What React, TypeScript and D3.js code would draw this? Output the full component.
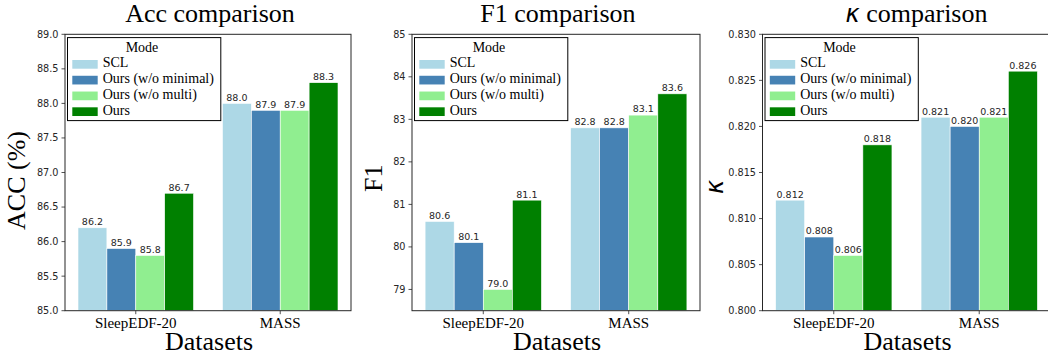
import React from "react";
import * as d3 from "d3";

const categories = ["SleepEDF-20", "MASS"];
const modes = ["SCL", "Ours (w/o minimal)", "Ours (w/o multi)", "Ours"];
const modeColors = ["#add8e6", "#4682b4", "#90ee90", "#008000"];

// values per mode: [SleepEDF-20, MASS]
const accSCL = [86.2, 88.0];
const accNoMinimal = [85.9, 87.9];
const accNoMulti = [85.8, 87.9];
const accOurs = [86.7, 88.3];

const f1SCL = [80.6, 82.8];
const f1NoMinimal = [80.1, 82.8];
const f1NoMulti = [79.0, 83.1];
const f1Ours = [81.1, 83.6];

const kappaSCL = [0.812, 0.821];
const kappaNoMinimal = [0.808, 0.82];
const kappaNoMulti = [0.806, 0.821];
const kappaOurs = [0.818, 0.826];

const accTicks = [85.0, 85.5, 86.0, 86.5, 87.0, 87.5, 88.0, 88.5, 89.0];
const f1Ticks = [79, 80, 81, 82, 83, 84, 85];
const kappaTicks = [0.8, 0.805, 0.81, 0.815, 0.82, 0.825, 0.83];

const panels = [
  {
    title: "Acc comparison",
    ylabel: "ACC (%)",
    series: [accSCL, accNoMinimal, accNoMulti, accOurs],
    domain: [85, 89],
    ticks: accTicks,
    tickFmt: ".1f",
    valFmt: ".1f",
    left: 65,
    right: 351,
    ylabelX: 25,
    ylabelY: 180.5,
    titleDx: 2,
    kappa: false,
  },
  {
    title: "F1 comparison",
    ylabel: "F1",
    series: [f1SCL, f1NoMinimal, f1NoMulti, f1Ours],
    domain: [78.5, 85],
    ticks: f1Ticks,
    tickFmt: "d",
    valFmt: ".1f",
    left: 412,
    right: 700,
    ylabelX: 382,
    ylabelY: 178.3,
    titleDx: 2,
    kappa: false,
  },
  {
    title: "comparison",
    ylabel: "κ",
    series: [kappaSCL, kappaNoMinimal, kappaNoMulti, kappaOurs],
    domain: [0.8, 0.83],
    ticks: kappaTicks,
    tickFmt: ".3f",
    valFmt: ".3f",
    left: 762.5,
    right: 1050.5,
    ylabelX: 723,
    ylabelY: 187,
    titleDx: 10,
    kappa: true,
  },
];

const TOP = 34.3;
const BOTTOM = 310.7;
const INK = "#262626";
const SERIF = "'Liberation Serif', 'Times New Roman', serif";
const SANS = "'DejaVu Sans', sans-serif";

function Panel({ p }: { p: (typeof panels)[number] }) {
  const x = d3.scaleLinear().domain([-0.49, 1.49]).range([p.left, p.right]);
  const y = d3.scaleLinear().domain(p.domain).range([BOTTOM, TOP]);
  const bw = 0.2;
  const tf = d3.format(p.tickFmt);
  const vf = d3.format(p.valFmt);
  const cx = (p.left + p.right) / 2;
  const legX = p.left + 2.5;
  const legY = TOP + 3.3;
  return (
    <g>
      {p.series.map((vals, j) =>
        vals.map((v, i) => {
          const xc = i + (j - 1.5) * bw;
          const x0 = x(xc - bw / 2);
          const x1 = x(xc + bw / 2);
          return (
            <g key={`${j}-${i}`}>
              <rect
                x={x0}
                y={y(v)}
                width={x1 - x0}
                height={BOTTOM - y(v)}
                fill={modeColors[j]}
                stroke="#ffffff"
                strokeWidth={0.6}
              />
              <text
                x={(x0 + x1) / 2}
                y={y(v) - 2.6}
                textAnchor="middle"
                fontFamily={SANS}
                fontSize={9.5}
                fill={INK}
              >
                {vf(v)}
              </text>
            </g>
          );
        })
      )}
      <rect
        x={p.left}
        y={TOP}
        width={p.right - p.left}
        height={BOTTOM - TOP}
        fill="none"
        stroke={INK}
        strokeWidth={1}
      />
      {p.ticks.map((t) => (
        <g key={t}>
          <line x1={p.left - 3.5} x2={p.left} y1={y(t)} y2={y(t)} stroke={INK} strokeWidth={0.8} />
          <text
            x={p.left - 6.5}
            y={y(t)}
            dy="0.35em"
            textAnchor="end"
            fontFamily={SANS}
            fontSize={9.7}
            fill={INK}
          >
            {tf(t)}
          </text>
        </g>
      ))}
      {categories.map((c, i) => (
        <g key={c}>
          <line x1={x(i)} x2={x(i)} y1={BOTTOM} y2={BOTTOM + 3.5} stroke={INK} strokeWidth={0.8} />
          <text x={x(i)} y={328.3} textAnchor="middle" fontFamily={SERIF} fontSize={15} fill="#000">
            {c}
          </text>
        </g>
      ))}
      <text x={cx + 1} y={350} textAnchor="middle" fontFamily={SERIF} fontSize={26} fill="#000">
        Datasets
      </text>
      <text
        transform={`translate(${p.ylabelX},${p.ylabelY}) rotate(-90)`}
        textAnchor="middle"
        fontFamily={p.kappa ? SANS : SERIF}
        fontStyle={p.kappa ? "italic" : "normal"}
        fontSize={p.kappa ? 24 : 26}
        fill="#000"
      >
        {p.ylabel}
      </text>
      <text x={cx + p.titleDx} y={21.7} textAnchor="middle" fontFamily={SERIF} fontSize={26} fill="#000">
        {p.kappa ? (
          <>
            <tspan fontFamily={SANS} fontStyle="italic" fontSize={24}>
              κ
            </tspan>
            <tspan>{"  comparison"}</tspan>
          </>
        ) : (
          p.title
        )}
      </text>
      <rect x={legX} y={legY} width={153.3} height={83} fill="#ffffff" stroke="#000" strokeWidth={1} />
      <text x={legX + 74.5} y={51.7} textAnchor="middle" fontFamily={SERIF} fontSize={14} fill="#000">
        Mode
      </text>
      {modes.map((m, j) => {
        const base = 67.3 + j * 15.77;
        return (
          <g key={m}>
            <rect x={p.left + 7.3} y={base - 7.3} width={25.4} height={8.7} fill={modeColors[j]} />
            <text x={p.left + 37.7} y={base} fontFamily={SERIF} fontSize={14} fill="#000">
              {m}
            </text>
          </g>
        );
      })}
    </g>
  );
}

export default function App() {
  return (
    <svg
      width={1048}
      height={355}
      style={{ position: "absolute", left: 0, top: 0, background: "#fff" }}
    >
      <rect x={0} y={0} width={1048} height={355} fill="#fff" />
      {panels.map((p, k) => (
        <Panel key={k} p={p} />
      ))}
    </svg>
  );
}
